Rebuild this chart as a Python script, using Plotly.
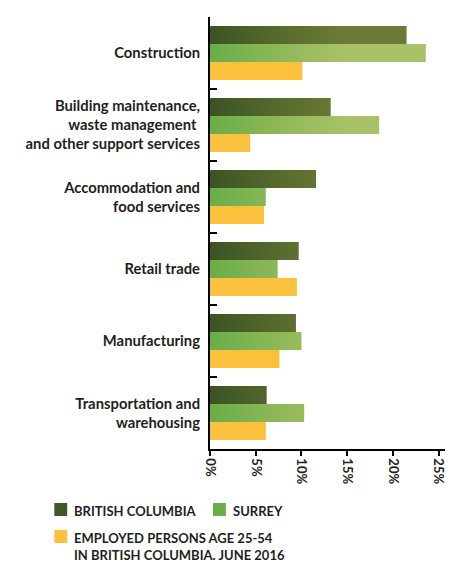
import plotly.graph_objects as go

# Industry categories, top to bottom
categories = [
    "Construction",
    "Building maintenance,<br>waste management\u00a0<br>and other support services",
    "Accommodation and<br>food services",
    "Retail trade",
    "Manufacturing",
    "Transportation and<br>warehousing",
]

# Share of employment (%) by industry
series_names = [
    "BRITISH COLUMBIA",
    "SURREY",
    "EMPLOYED PERSONS AGE 25-54<br>IN BRITISH COLUMBIA. JUNE 2016",
]
bc_values = [21.5, 13.2, 11.6, 9.7, 9.4, 6.2]
surrey_values = [23.6, 18.5, 6.1, 7.4, 10.0, 10.3]
employed_values = [10.1, 4.4, 5.9, 9.5, 7.6, 6.1]

x_ticks = [0, 5, 10, 15, 20, 25]

FONT = "Lato"
TEXT = "#231f20"
BAR_W = 0.25  # thickness of one bar in category units
SWATCH = ["#3f5a28", "#6aad48", "#fcc13c"]

W, H = 449, 562
M = dict(l=210, r=2, t=17, b=113)
PLOT_W = W - M["l"] - M["r"]
PLOT_H = H - M["t"] - M["b"]


def px_to_paper(px, py):
    """Convert page pixels to paper coordinates of the plot area."""
    return (px - M["l"]) / PLOT_W, (H - M["b"] - py) / PLOT_H


def bar_outline(values, offset):
    """Closed rectangles (one per category) for a horizontal bar series."""
    xs, ys = [], []
    for i, v in enumerate(values):
        y0 = i + offset - BAR_W / 2
        y1 = y0 + BAR_W
        xs += [0, v, v, 0, 0, None]
        ys += [y0, y0, y1, y1, y0, None]
    return xs, ys


fig = go.Figure()

bc_x, bc_y = bar_outline(bc_values, -BAR_W)
fig.add_trace(go.Scatter(
    x=bc_x, y=bc_y, mode="none", fill="toself", name=series_names[0],
    showlegend=False, hoverinfo="skip",
    fillgradient=dict(type="horizontal", start=0, stop=14,
                      colorscale=[[0, "#3a5425"], [0.5, "#55692d"], [1, "#6b7b35"]]),
))

sr_x, sr_y = bar_outline(surrey_values, 0)
fig.add_trace(go.Scatter(
    x=sr_x, y=sr_y, mode="none", fill="toself", name=series_names[1],
    showlegend=False, hoverinfo="skip",
    fillgradient=dict(type="horizontal", start=0, stop=15,
                      colorscale=[[0, "#69ad47"], [0.5, "#8fb858"], [1, "#a9c267"]]),
))

em_x, em_y = bar_outline(employed_values, BAR_W)
fig.add_trace(go.Scatter(
    x=em_x, y=em_y, mode="none", fill="toself", fillcolor=SWATCH[2],
    name=series_names[2], showlegend=False, hoverinfo="skip",
))

# Legend block below the chart: swatch squares plus labels
legend_items = [
    (series_names[0], SWATCH[0], 53, 503),
    (series_names[1], SWATCH[1], 213, 503),
    (series_names[2], SWATCH[2], 53, 530),
]
shapes, annotations = [], []
for name, color, sx, sy in legend_items:
    x0, y1 = px_to_paper(sx, sy)
    x1, y0 = px_to_paper(sx + 13, sy + 13)
    shapes.append(dict(type="rect", xref="paper", yref="paper",
                       x0=x0, x1=x1, y0=y0, y1=y1,
                       fillcolor=color, line=dict(width=0)))
    tx, ty = px_to_paper(sx + 18, sy - 2)
    annotations.append(dict(
        text=name, xref="paper", yref="paper", x=tx, y=ty,
        xanchor="left", yanchor="top", align="left", showarrow=False,
        font=dict(family=FONT, size=13, color=TEXT, weight="bold"),
    ))

fig.update_layout(
    width=W,
    height=H,
    margin=M,
    paper_bgcolor="white",
    plot_bgcolor="white",
    font=dict(family=FONT, color=TEXT),
    showlegend=False,
    shapes=shapes,
    annotations=annotations,
    xaxis=dict(
        range=[0, 25.7],
        tickmode="array",
        tickvals=x_ticks,
        ticktext=[f"{v}%" for v in x_ticks],
        tickangle=90,
        ticks="outside", ticklen=5, tickwidth=1.5, tickcolor="black",
        showline=True, linecolor="black", linewidth=1.5,
        showgrid=False, zeroline=False,
        ticklabeloverflow="allow",
        tickfont=dict(family=FONT, size=13, color=TEXT, weight="bold"),
    ),
    yaxis=dict(
        range=[5.5, -0.5],
        tickmode="array",
        tickvals=list(range(len(categories))),
        ticktext=categories,
        ticks="",
        minor=dict(tickmode="array", tickvals=[0.5, 1.5, 2.5, 3.5, 4.5],
                   ticks="inside", ticklen=7, tickwidth=2, tickcolor="black"),
        showline=True, linecolor="black", linewidth=2,
        showgrid=False, zeroline=False,
        ticklabelstandoff=5,
        tickfont=dict(family=FONT, size=14.8, color=TEXT, weight="bold"),
    ),
)

fig.write_html("out.html")
